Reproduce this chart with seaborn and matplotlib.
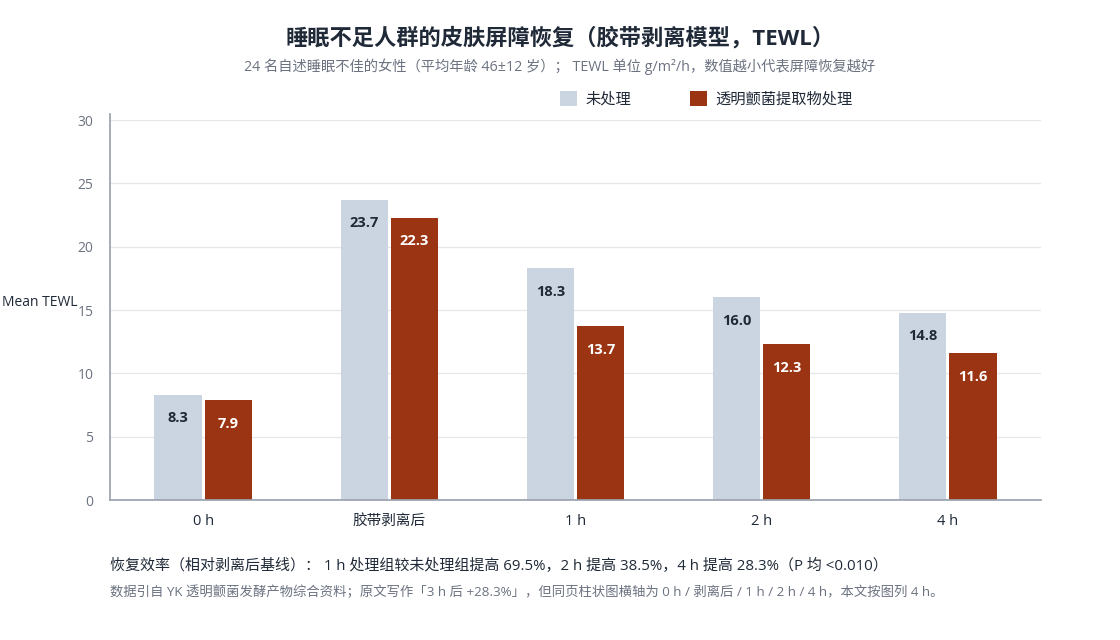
import pandas as pd
import matplotlib
matplotlib.use("Agg")
import matplotlib.pyplot as plt
import seaborn as sns
from matplotlib.patches import Patch

# data
timepoints = ["0 h", "胶带剥离后", "1 h", "2 h", "4 h"]
groups = ["未处理", "透明颤菌提取物处理"]
untreated = [8.3, 23.7, 18.3, 16.0, 14.8]
treated = [7.9, 22.3, 13.7, 12.3, 11.6]
colors = ["#CBD5E1", "#9A3412"]

df = pd.DataFrame({
    "time": timepoints * 2,
    "group": [groups[0]] * 5 + [groups[1]] * 5,
    "tewl": untreated + treated,
})

sns.set_theme(style="white")
plt.rcParams["font.family"] = ["Open Sans", "Noto Sans CJK SC", "DejaVu Sans"]

fig = plt.figure(figsize=(11.2, 6.4), dpi=100)
ax = fig.add_axes([110 / 1120, 140 / 640, 931 / 1120, 380 / 640])

sns.barplot(data=df, x="time", y="tewl", hue="group", order=timepoints,
            hue_order=groups, palette=colors, width=0.54, gap=0.06,
            saturation=1, legend=False, linewidth=0, ax=ax)

ax.set_ylim(0, 30)
ax.set_xlim(-0.5, 4.5)
ax.set_yticks(range(0, 31, 5))
ax.yaxis.grid(True, color="#E5E7EB", linewidth=0.9)
ax.set_axisbelow(True)
for s in ["top", "right"]:
    ax.spines[s].set_visible(False)
ax.spines["left"].set_color("#9CA3AF")
ax.spines["bottom"].set_color("#9CA3AF")
ax.spines["left"].set_bounds(0, 30.5)
ax.tick_params(axis="y", labelsize=10, labelcolor="#6B7280", length=0, pad=12)
ax.tick_params(axis="x", labelsize=10.5, labelcolor="#1F2937", length=0, pad=10)
ax.set_xlabel("")
ax.set_ylabel("Mean TEWL", rotation=0, fontsize=10, color="#1F2937", labelpad=4)
ax.yaxis.set_label_coords(-0.0345, 0.5)
ax.yaxis.label.set_horizontalalignment("right")

# value labels inside the bars
for cont, txtc in zip(ax.containers, ["#1F2937", "white"]):
    for bar in cont:
        h = bar.get_height()
        ax.annotate(f"{h:.1f}", (bar.get_x() + bar.get_width() / 2, h),
                    xytext=(0, -17), textcoords="offset points",
                    ha="center", va="center", fontsize=10.5,
                    fontweight="bold", color=txtc)

handles = [Patch(facecolor=c, edgecolor="none") for c in colors]
fig.legend(handles, groups, loc="center left", bbox_to_anchor=(546 / 1120, 1 - 99 / 640),
           ncol=2, frameon=False, fontsize=11, handlelength=1.15, handleheight=1.15,
           columnspacing=3.8, handletextpad=0.55, labelcolor="#1F2937")

fig.text(0.5, 1 - 38 / 640, "睡眠不足人群的皮肤屏障恢复（胶带剥离模型，TEWL）",
         ha="center", va="center", fontsize=16, fontweight="bold", color="#1F2937")
fig.text(0.5, 1 - 67 / 640,
         "24 名自述睡眠不佳的女性（平均年龄 46±12 岁）； TEWL 单位 g/m²/h，数值越小代表屏障恢复越好",
         ha="center", va="center", fontsize=10.3, color="#6B7280")
fig.text(110 / 1120, 1 - 566 / 640,
         "恢复效率（相对剥离后基线）： 1 h 处理组较未处理组提高 69.5%，2 h 提高 38.5%，4 h 提高 28.3%（P 均 <0.010）",
         ha="left", va="center", fontsize=10.8, color="#1F2937")
fig.text(110 / 1120, 1 - 592 / 640,
         "数据引自 YK 透明颤菌发酵产物综合资料；原文写作「3 h 后 +28.3%」，但同页柱状图横轴为 0 h / 剥离后 / 1 h / 2 h / 4 h，本文按图列 4 h。",
         ha="left", va="center", fontsize=9.6, color="#6B7280")

fig.savefig("out.png", dpi=100)
